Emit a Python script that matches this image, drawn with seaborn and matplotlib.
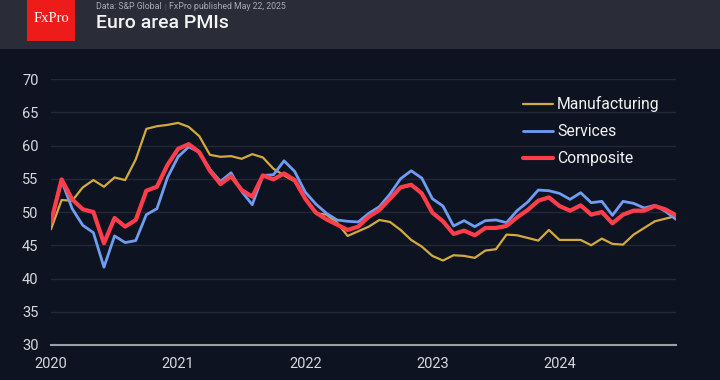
import matplotlib
matplotlib.use("Agg")
import matplotlib.pyplot as plt
import matplotlib.patches as mpatches
import numpy as np
import pandas as pd
import seaborn as sns

# Monthly values, 60 points
manufacturing = [47.4, 51.8, 51.7, 53.7, 54.8, 53.8, 55.2,
                 54.8, 57.9, 62.5, 62.9, 63.1, 63.4, 62.8, 61.4, 58.6, 58.3, 58.4, 58.0,
                 58.7, 58.2, 56.5, 55.5, 54.6, 52.1, 49.8, 49.6, 48.4, 46.4, 47.1, 47.8,
                 48.8, 48.5, 47.3, 45.8, 44.8, 43.4, 42.7, 43.5, 43.4, 43.1, 44.2, 44.4,
                 46.6, 46.5, 46.1, 45.7, 47.3, 45.8, 45.8, 45.8, 45.0, 46.0, 45.2, 45.1,
                 46.6, 47.6, 48.6, 49.0, 49.4]
services = [48.3, 54.7, 50.5, 48.0, 46.9, 41.7, 46.4,
            45.4, 45.7, 49.6, 50.5, 55.2, 58.3, 59.8, 59.0, 56.4, 54.6, 55.9, 53.1,
            51.1, 55.5, 55.6, 57.7, 56.1, 53.0, 51.2, 49.8, 48.8, 48.6, 48.5, 49.8,
            50.8, 52.7, 55.0, 56.2, 55.1, 52.0, 50.9, 47.9, 48.7, 47.8, 48.7, 48.8,
            48.4, 50.2, 51.5, 53.3, 53.2, 52.8, 51.9, 52.9, 51.4, 51.6, 49.5, 51.6,
            51.3, 50.6, 51.0, 50.1, 48.9]
composite = [48.5, 54.9, 51.9, 50.4, 50.0, 45.3, 49.1,
             47.8, 48.8, 53.2, 53.8, 57.1, 59.5, 60.2, 59.0, 56.2, 54.2, 55.4, 53.3,
             52.3, 55.5, 54.9, 55.8, 54.8, 52.0, 49.9, 48.9, 48.1, 47.3, 47.8, 49.3,
             50.3, 52.0, 53.7, 54.1, 52.8, 49.9, 48.6, 46.7, 47.2, 46.5, 47.6, 47.6,
             47.9, 49.2, 50.3, 51.7, 52.2, 50.9, 50.2, 51.0, 49.6, 50.0, 48.3, 49.6,
             50.2, 50.2, 50.9, 50.4, 49.5]
year_ticks = [0, 12, 24, 36, 48]
year_labels = ["2020", "2021", "2022", "2023", "2024"]
y_ticks = [30, 35, 40, 45, 50, 55, 60, 65, 70]

BG = "#0d1320"
HEADER = "#2a2c37"
GRID = "#222836"
TXT = "#d6d8dc"

sns.set_theme(style="dark")
plt.rcParams["font.family"] = ["Roboto", "DejaVu Sans"]

fig = plt.figure(figsize=(7.2, 3.8), dpi=100, facecolor=BG)
ax = fig.add_axes([51/720, 35/380, 625/720, 266/380])
ax.set_facecolor(BG)

df = pd.DataFrame({"idx": np.arange(len(composite)),
                   "Manufacturing": manufacturing,
                   "Services": services,
                   "Composite": composite})

sns.lineplot(data=df, x="idx", y="Manufacturing", ax=ax, color="#d4aa3c", linewidth=1.6, label="Manufacturing")
sns.lineplot(data=df, x="idx", y="Services", ax=ax, color="#6f9df2", linewidth=2.0, label="Services")
sns.lineplot(data=df, x="idx", y="Composite", ax=ax, color="#ff3d4b", linewidth=3.0, label="Composite")

ax.set_xlim(0, len(composite) - 1)
ax.set_ylim(30, 70)
ax.set_yticks(y_ticks)
ax.set_xticks(year_ticks)
ax.set_xticklabels(year_labels)
ax.set_xlabel("")
ax.set_ylabel("")
ax.grid(axis="y", color=GRID, linewidth=1.0)
ax.grid(axis="x", visible=False)
for s in ["top", "right", "left"]:
    ax.spines[s].set_visible(False)
ax.spines["bottom"].set_color("#9aa0a8")
ax.spines["bottom"].set_linewidth(1.5)
ax.tick_params(axis="both", length=0, colors=TXT, labelsize=10.5)
ax.tick_params(axis="y", pad=9)
ax.tick_params(axis="x", pad=9)

leg = ax.legend(loc="upper left", bbox_to_anchor=(523/720, 1 - 96/380), bbox_transform=fig.transFigure,
                frameon=False, fontsize=11.3, handlelength=1.9, handletextpad=0.28,
                labelspacing=0.78, borderpad=0, borderaxespad=0)
for t in leg.get_texts():
    t.set_color("#f2f2f2")

# header band
fig.patches.append(mpatches.Rectangle((0, 1 - 49/380), 1, 49/380, transform=fig.transFigure,
                                      facecolor=HEADER, edgecolor="none", zorder=0))
fig.patches.append(mpatches.Rectangle((27/720, 1 - 41/380), 48/720, 41/380, transform=fig.transFigure,
                                      facecolor="#ee1b1b", edgecolor="none", zorder=1))
fig.text(51/720, 1 - 19/380, "FxPro", ha="center", va="center", color="white",
         fontsize=10.5, family=["Liberation Serif", "DejaVu Serif"], zorder=2)

# subtitle pieces laid out one after another
renderer = fig.canvas.get_renderer()
t1 = fig.text(96/720, 1 - 6.5/380, "Data: S&P Global", ha="left", va="center", color="#a9abb3", fontsize=6.3)
x_end = t1.get_window_extent(renderer).x1
t2 = fig.text((x_end + 3) / 720, 1 - 6.5/380, "|", ha="left", va="center", color="#6c6f78", fontsize=5.2)
x_end2 = t2.get_window_extent(renderer).x1
fig.text((x_end2 + 3) / 720, 1 - 6.5/380, "FxPro published May 22, 2025", ha="left", va="center",
         color="#a9abb3", fontsize=6.3)
fig.text(96/720, 1 - 23.5/380, "Euro area PMIs", ha="left", va="center", color="#f4f4f4", fontsize=14,
         fontweight="medium")

fig.savefig("out.png", dpi=100, facecolor=BG)
